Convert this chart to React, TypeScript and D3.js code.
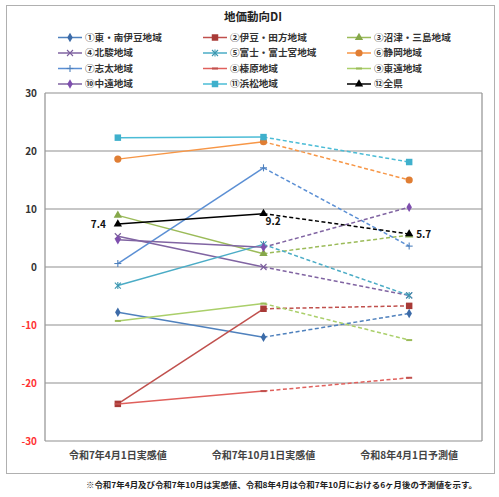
import React from 'react'
import * as d3 from 'd3'

// categories (x axis)
const categories = ['令和7年4月1日実感値', '令和7年10月1日実感値', '令和8年4月1日予測値']

const seriesNames = [
  '①東・南伊豆地域', '②伊豆・田方地域', '③沼津・三島地域',
  '④北駿地域', '⑤富士・富士宮地域', '⑥静岡地域',
  '⑦志太地域', '⑧榛原地域', '⑨東遠地域',
  '⑩中遠地域', '⑪浜松地域', '⑫全県',
]

// values
const higashiMinamiIzu = [-7.8, -12.1, -8.0]
const izuTagata = [-23.6, -7.2, -6.7]
const numazuMishima = [8.9, 2.3, 5.5]
const hokusun = [5.3, 0.0, -4.9]
const fujiFujinomiya = [-3.2, 3.9, -4.9]
const shizuoka = [18.6, 21.6, 15.0]
const shida = [0.6, 17.1, 3.6]
const haibara = [-23.6, -21.4, -19.1]
const toen = [-9.3, -6.3, -12.6]
const chuen = [4.7, 3.4, 10.3]
const hamamatsu = [22.3, 22.4, 18.1]
const zenken = [7.4, 9.2, 5.7]

const yTicks = [30, 20, 10, 0, -10, -20, -30]

const footnote = '※令和7年4月及び令和7年10月は実感値、令和8年4月は令和7年10月における6ヶ月後の予測値を示す。'

type Marker = 'diamond' | 'square' | 'triangle' | 'x' | 'star' | 'circle' | 'plus' | 'dash'

const allValues = [
  higashiMinamiIzu, izuTagata, numazuMishima, hokusun, fujiFujinomiya, shizuoka,
  shida, haibara, toen, chuen, hamamatsu, zenken,
]
const lineColors = [
  '#4F81BD', '#C0504D', '#9BBB59', '#8064A2', '#4BACC6', '#F79646',
  '#5B8FD4', '#E0605C', '#AACF6A', '#8064A2', '#4BBCD6', '#000000',
]
const markerColors = [
  '#3C6BA8', '#A83A37', '#86A84A', '#7A5E9C', '#3C97B0', '#E07E34',
  '#4F81BD', '#C0504D', '#9BBB59', '#7E4EAE', '#3FB0CC', '#000000',
]
const markers: Marker[] = [
  'diamond', 'square', 'triangle', 'x', 'star', 'circle',
  'plus', 'dash', 'dash', 'diamond', 'square', 'triangle',
]

const FONT = '"Noto Sans CJK JP", "Noto Sans", sans-serif'

function MarkerShape({ type, x, y, color }: { type: Marker; x: number; y: number; color: string }) {
  const sym = (s: d3.SymbolType, size: number) => (
    <path d={d3.symbol(s, size)()!} transform={`translate(${x},${y})`} fill={color} />
  )
  switch (type) {
    case 'diamond':
      return sym(d3.symbolDiamond, 26)
    case 'square':
      return sym(d3.symbolSquare, 42)
    case 'triangle':
      return sym(d3.symbolTriangle, 30)
    case 'circle':
      return <circle cx={x} cy={y} r={3.6} fill={color} />
    case 'x':
      return (
        <g stroke={color} strokeWidth={1.1}>
          <line x1={x - 3} y1={y - 3} x2={x + 3} y2={y + 3} />
          <line x1={x - 3} y1={y + 3} x2={x + 3} y2={y - 3} />
        </g>
      )
    case 'star':
      return (
        <g stroke={color} strokeWidth={1.1}>
          <line x1={x - 3} y1={y - 3} x2={x + 3} y2={y + 3} />
          <line x1={x - 3} y1={y + 3} x2={x + 3} y2={y - 3} />
          <line x1={x} y1={y - 3.5} x2={x} y2={y + 3.5} />
        </g>
      )
    case 'plus':
      return (
        <g stroke={color} strokeWidth={1.1}>
          <line x1={x - 3.5} y1={y} x2={x + 3.5} y2={y} />
          <line x1={x} y1={y - 3.5} x2={x} y2={y + 3.5} />
        </g>
      )
    case 'dash':
      return <line x1={x - 3} y1={y} x2={x + 3} y2={y} stroke={color} strokeWidth={2} />
  }
}

export default function App() {
  const W = 499
  const H = 497
  const plot = { left: 45, right: 482, top: 93, bottom: 441 }

  const x = d3.scaleBand<string>().domain(categories).range([plot.left, plot.right]).padding(0)
  const cx = (c: string) => x(c)! + x.bandwidth() / 2
  const y = d3.scaleLinear().domain([-30, 30]).range([plot.bottom, plot.top])

  const line = d3.line<[number, number]>().x(d => d[0]).y(d => d[1])

  const legendCols = [58, 203, 347]
  const legendRows = [37.5, 53, 68.5, 84]

  const labelPts = zenken.map((v, i) => [cx(categories[i]), y(v)] as [number, number])

  return (
    <svg width={W} height={H} style={{ position: 'absolute', left: 0, top: 0, background: '#fff' }} fontFamily={FONT}>
      <rect x={6.5} y={5.5} width={488} height={468} fill="#fff" stroke="#B0B0B0" />

      <text x={253} y={21} textAnchor="middle" fontSize={11.5} fontWeight="bold" fill="#222">地価動向DI</text>

      {/* legend */}
      {seriesNames.map((name, i) => {
        const lx = legendCols[i % 3]
        const ly = legendRows[Math.floor(i / 3)]
        return (
          <g key={name}>
            <line x1={lx} x2={lx + 24} y1={ly} y2={ly} stroke={lineColors[i]} strokeWidth={1.5} />
            <MarkerShape type={markers[i]} x={lx + 12} y={ly} color={markerColors[i]} />
            <text x={lx + 27} y={ly} dy="0.36em" fontSize={9.6} fontWeight="bold" fill="#333">{name}</text>
          </g>
        )
      })}

      {/* grid */}
      {yTicks.map(t => (
        <line key={t} x1={plot.left} x2={plot.right} y1={y(t)} y2={y(t)} stroke="#B5B5B5" strokeWidth={1.3} />
      ))}
      <line x1={plot.left} x2={plot.left} y1={plot.top} y2={plot.bottom} stroke="#9A9A9A" strokeWidth={1.3} />
      <line x1={plot.right} x2={plot.right} y1={plot.top} y2={plot.bottom} stroke="#9A9A9A" strokeWidth={1.3} />

      {/* y tick labels */}
      {yTicks.map(t => (
        <text key={t} x={37} y={y(t)} dy="0.35em" textAnchor="end" fontSize={10} fontWeight="bold"
          fill={t < 0 ? '#FF3333' : '#333'}>{t}</text>
      ))}

      {/* x labels */}
      {categories.map(c => (
        <text key={c} x={cx(c)} y={455} dy="0.35em" textAnchor="middle" fontSize={10} fontWeight="bold" fill="#444">{c}</text>
      ))}

      {/* series */}
      {allValues.map((vals, i) => {
        const pts = vals.map((v, j) => [cx(categories[j]), y(v)] as [number, number])
        return (
          <g key={i}>
            <path d={line(pts.slice(0, 2))!} fill="none" stroke={lineColors[i]} strokeWidth={1.5} />
            <path d={line(pts.slice(1, 3))!} fill="none" stroke={lineColors[i]} strokeWidth={1.5} strokeDasharray="4 2.5" />
            {pts.map((p, j) => (
              <MarkerShape key={j} type={markers[i]} x={p[0]} y={p[1]} color={markerColors[i]} />
            ))}
          </g>
        )
      })}

      {/* data labels for 全県 */}
      <text x={labelPts[0][0] - 12} y={labelPts[0][1]} dy="0.35em" textAnchor="end" fontSize={10} fontWeight="bold" fill="#111">{zenken[0].toFixed(1)}</text>
      <text x={labelPts[1][0] + 2} y={labelPts[1][1] + 8} dy="0.35em" textAnchor="start" fontSize={10} fontWeight="bold" fill="#111">{zenken[1].toFixed(1)}</text>
      <text x={labelPts[2][0] + 7} y={labelPts[2][1] + 1} dy="0.35em" textAnchor="start" fontSize={10} fontWeight="bold" fill="#111">{zenken[2].toFixed(1)}</text>

      <text x={86} y={485} dy="0.35em" fontSize={8} fontWeight="bold" fill="#222" textLength={391} lengthAdjust="spacingAndGlyphs">{footnote}</text>
    </svg>
  )
}
